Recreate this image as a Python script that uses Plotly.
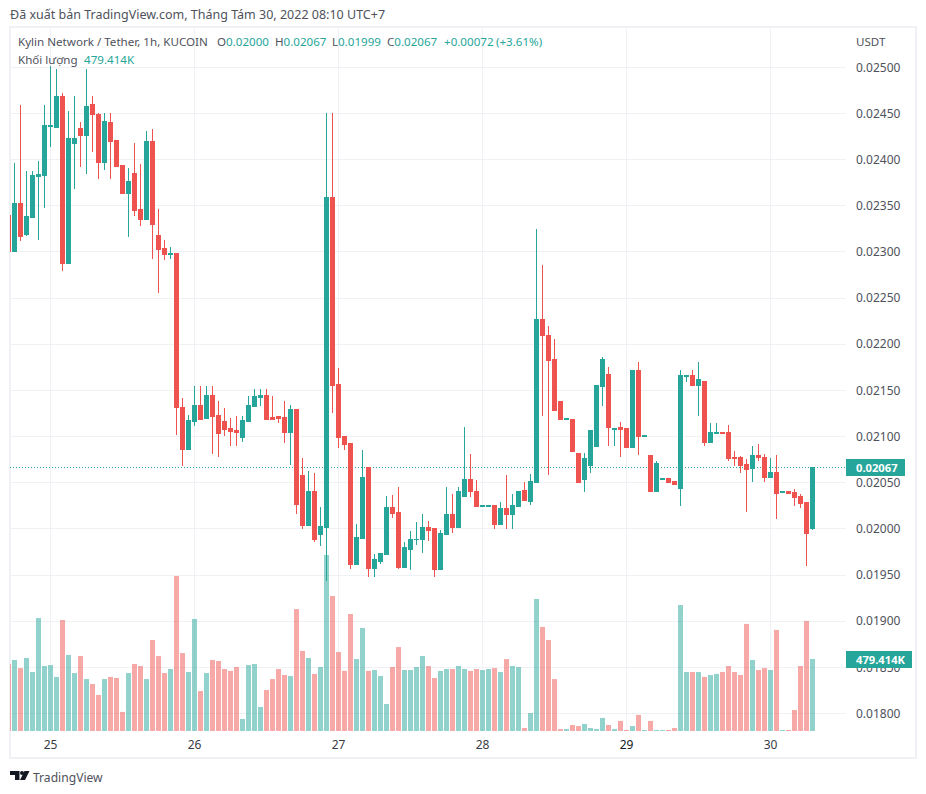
import pandas as pd
import plotly.graph_objects as go

# Prices in units of 0.00001 USDT (the chart's own price step); first entry is the clipped candle at the left edge
opens_e5 = [2340, 2300,2353,2319,2337,2382,2383,2436,2435,2468,2288,
 2417,2434,2426,2460,2449,2397,2440,2421,2394,2363,
 2385,2346,2335,2420,2318,2304,2297,2298,2132,2086,
 2116,2134,2120,2145,2123,2116,2109,2107,2099,2116,
 2133,2142,2144,2121,2122,2121,2104,2129,2058,2004,
 2041,1994,2002,2359,2156,2100,2092,1961,1990,2067,
 1957,1965,1972,2023,2018,1958,1978,1988,1988,2002,
 2000,1956,1994,2016,2002,2035,2054,2041,2024,2024,
 2025,2005,2022,2016,2024,2042,2030,2050,2227,2210,
 2183,2138,2119,2118,2082,2054,2069,2089,2154,2167,
 2108,2110,2109,2088,2172,2100,2080,2041,2054,2055,
 2051,2044,2165,2166,2155,2160,2094,2103,2104,2104,
 2077,2077,2070,2065,2079,2077,2056,2061,2039,2040,
 2039,2035,2029,2000]
closes_e5 = [2300, 2353,2317,2338,2383,2384,2437,2437,2468,2288,2423,
 2423,2426,2458,2449,2397,2441,2420,2393,2363,2376,
 2345,2335,2420,2330,2303,2297,2298,2131,2086,2117,
 2134,2119,2145,2122,2103,2108,2106,2104,2117,2134,
 2143,2144,2119,2119,2120,2104,2129,2026,2004,2041,
 1989,2003,2359,2155,2099,2091,1961,1991,2056,1957,
 1967,1973,2023,2017,1958,1980,1989,1989,2002,1998,
 1956,1995,2016,2002,2040,2053,2040,2024,2025,2025,
 2005,2022,2016,2025,2041,2031,2051,2227,2209,2182,
 2128,2119,2120,2084,2050,2076,2107,2155,2183,2110,
 2109,2108,2088,2172,2100,2101,2041,2071,2055,2050,
 2048,2166,2166,2155,2162,2094,2104,2104,2103,2076,
 2076,2069,2064,2079,2077,2056,2061,2038,2040,2038,
 2034,2028,1995,2067]
highs_e5 = [2340, 2396,2459,2388,2388,2398,2459,2501,2498,2472,2453,
 2469,2441,2498,2469,2450,2450,2450,2421,2394,2391,
 2418,2395,2431,2433,2347,2313,2305,2298,2142,2123,
 2155,2155,2155,2155,2139,2131,2120,2122,2122,2144,
 2151,2152,2152,2144,2122,2139,2134,2129,2077,2063,
 2061,2024,2450,2450,2174,2100,2092,2005,2085,2067,
 1973,1973,2036,2037,2045,1986,1998,2007,2016,2009,
 2001,1999,2045,2038,2045,2110,2081,2053,2026,2025,
 2025,2029,2058,2038,2041,2051,2059,2325,2286,2220,
 2206,2138,2120,2118,2082,2082,2107,2155,2186,2175,
 2109,2116,2109,2172,2181,2101,2080,2073,2055,2055,
 2051,2172,2166,2172,2181,2160,2115,2115,2105,2113,
 2084,2079,2076,2090,2092,2081,2077,2080,2040,2040,
 2043,2038,2029,2067]
lows_e5 = [2300, 2300,2312,2317,2337,2313,2348,2414,2435,2279,2288,
 2368,2392,2384,2408,2379,2389,2379,2393,2363,2316,
 2339,2328,2335,2292,2256,2291,2292,2102,2068,2086,
 2111,2119,2120,2081,2078,2101,2090,2090,2094,2116,
 2132,2133,2119,2118,2115,2093,2069,2016,2000,2004,
 1986,1981,1944,2125,2088,2085,1956,1961,1990,1948,
 1948,1962,1972,2012,1956,1958,1955,1982,1974,1987,
 1948,1956,1994,1996,2002,2035,2034,2024,2024,2024,
 2000,2005,2000,2000,2024,2031,2026,2050,2122,2058,
 2128,2119,2119,2084,2050,2040,2060,2089,2133,2090,
 2090,2078,2088,2088,2080,2100,2041,2041,2054,2050,
 2048,2025,2159,2155,2122,2090,2094,2103,2103,2073,
 2068,2061,2018,2051,2073,2051,2055,2011,2039,2038,
 2025,2023,1960,1999]
# Volume in thousands
volume_k = [446, 473,419,486,393,752,433,439,360,739,506,
 386,499,346,313,240,346,360,353,127,386,
 446,433,346,606,499,386,413,1032,519,393,
 746,266,386,473,466,413,400,426,80,439,
 446,160,273,346,413,373,366,812,533,486,
 380,426,1172,899,526,400,779,479,686,400,
 406,366,180,426,559,406,406,426,499,433,
 353,400,413,413,433,413,400,413,406,413,
 419,393,479,433,426,20,120,879,693,606,
 346,13,13,40,33,47,20,13,87,40,
 13,67,7,33,107,7,67,7,7,7,
 20,839,393,393,393,360,373,380,393,433,
 393,373,713,473,406,419,406,673,7,7,
 140,433,733,479.414]
date_ticks = ["2022-08-25", "2022-08-26", "2022-08-27", "2022-08-28", "2022-08-29", "2022-08-30"]
date_labels = ["25", "26", "27", "28", '<span style="color:#131722">29</span>', "30"]
price_ticks = [0.018, 0.0185, 0.019, 0.0195, 0.02, 0.0205, 0.021, 0.0215, 0.022, 0.0225, 0.023, 0.0235, 0.024, 0.0245, 0.025]

UP, DOWN = "#26a69a", "#ef5350"
GRID = "#eff1f5"
TXT = "#4f525c"
FONT = "Noto Sans"
W, H = 926, 794
L, R, T, B = 10, 846, 28, 731

times = pd.date_range("2022-08-24 17:00", periods=len(opens_e5), freq="h")
o = [v / 1e5 for v in opens_e5]
h = [v / 1e5 for v in highs_e5]
l = [v / 1e5 for v in lows_e5]
c = [v / 1e5 for v in closes_e5]
vol_colors = ["rgba(38,166,154,0.5)" if cc >= oo else "rgba(239,83,80,0.5)" for oo, cc in zip(o, c)]

fig = go.Figure()
fig.add_trace(go.Bar(x=times, y=[v * 1000 for v in volume_k], width=3000000, marker=dict(color=vol_colors, line_width=0),
                     xaxis="x", yaxis="y", hoverinfo="skip"))
fig.add_trace(go.Candlestick(x=times, open=o, high=h, low=l, close=c, xaxis="x", yaxis="y2", whiskerwidth=0,
                             increasing=dict(line=dict(color=UP, width=1), fillcolor=UP),
                             decreasing=dict(line=dict(color=DOWN, width=1), fillcolor=DOWN)))

def px(x):
    return (x - L) / (R - L)
def py(y):
    return (B - y) / (B - T)
def poly(points):
    return "M" + " L".join(f"{px(a):.5f},{py(b):.5f}" for a, b in points) + " Z"

LOGO = "#131722"
shapes = [
    dict(type="rect", xref="paper", yref="paper", x0=px(10), x1=px(916), y0=py(758), y1=py(27),
         line=dict(color=GRID, width=2), layer="below"),
    dict(type="line", xref="paper", yref="y2", x0=0, x1=1, y0=c[-1], y1=c[-1],
         line=dict(color=UP, width=1, dash="1px,2px"), layer="below"),
    dict(type="rect", xref="paper", yref="paper", x0=px(846), x1=px(905), y0=py(476), y1=py(459),
         fillcolor=UP, line_width=0, layer="above"),
    dict(type="rect", xref="paper", yref="paper", x0=px(846), x1=px(912), y0=py(668), y1=py(651),
         fillcolor=UP, line_width=0, layer="above"),
    dict(type="path", xref="paper", yref="paper", fillcolor=LOGO, line_width=0, layer="above",
         path=poly([(10, 771), (19.5, 771), (19.5, 780), (15, 780), (15, 775), (10, 775)])),
    dict(type="path", xref="paper", yref="paper", fillcolor=LOGO, line_width=0, layer="above",
         path=poly([(24.5, 771), (29.5, 771), (25, 780), (20, 780)])),
    dict(type="circle", xref="paper", yref="paper", fillcolor=LOGO, line_width=0, layer="above",
         x0=px(20), x1=px(24), y0=py(775), y1=py(771)),
]

def text(x, y, s, size=11.6, color=TXT, anchor="left", family=FONT):
    return dict(xref="paper", yref="paper", x=px(x), y=py(y), text=s, showarrow=False, xanchor=anchor, yanchor="middle",
                font=dict(size=size, color=color, family=family), borderpad=0, borderwidth=0)

annotations = [
    text(10, 14, "Đã xuất bản TradingView.com, Tháng Tám 30, 2022 08:10 UTC+7", 12.5),
    text(18, 42, "Kylin Network / Tether, 1h, KUCOIN"),
    text(217, 42, f'O<span style="color:{UP}">0.02000</span>'),
    text(274.5, 42, f'H<span style="color:{UP}">0.02067</span>'),
    text(331.5, 42, f'L<span style="color:{UP}">0.01999</span>'),
    text(387, 42, f'C<span style="color:{UP}">0.02067</span>'),
    text(443.5, 42, f'<span style="color:{UP}">+0.00072</span>'),
    text(496, 42, f'<span style="color:{UP}">(+3.61%)</span>'),
    text(18, 59, "Khối lượng"),
    text(84, 59, f'<span style="color:{UP}">479.414K</span>'),
    text(856, 41, "USDT"),
    text(856, 467.5, "<b>0.02067</b>", 11.2, "#ffffff"),
    text(856, 659.5, "<b>479.414K</b>", 11.2, "#ffffff"),
    text(33, 777, "TradingView", 12.1),
]

fig.update_layout(
    width=W, height=H, margin=dict(l=L, r=W - R, t=T, b=H - B, pad=0),
    paper_bgcolor="#ffffff", plot_bgcolor="#ffffff", showlegend=False, barmode="overlay", boxgap=0.2,
    shapes=shapes, annotations=annotations, font=dict(family=FONT, size=12, color=TXT),
    xaxis=dict(type="date", range=["2022-08-24 17:15", "2022-08-30 12:35"], tickvals=date_ticks, ticktext=date_labels,
               showgrid=True, gridcolor=GRID, gridwidth=1, zeroline=False, showline=False, ticks="", ticklabelstandoff=5,
               rangeslider=dict(visible=False), tickfont=dict(size=12, color="#3a3d47", family=FONT)),
    yaxis=dict(range=[0, 4681000], visible=False, showgrid=False, fixedrange=True),
    yaxis2=dict(overlaying="y", side="right", range=[0.01781, 0.025426], tickvals=price_ticks,
                tickformat=".5f", showgrid=True, gridcolor=GRID, gridwidth=1, zeroline=False, showline=False,
                ticks="", ticklabelstandoff=9, tickfont=dict(size=12, color=TXT, family=FONT)),
)
post = """
document.body.style.margin='0';
var st=document.createElement('style');
st.textContent='.boxlayer path{shape-rendering:crispEdges;stroke-linejoin:miter;} .layer-below .shapelayer path{shape-rendering:crispEdges;}';
document.head.appendChild(st);
"""
fig.write_html("out.html", post_script=post, config=dict(displayModeBar=False))
